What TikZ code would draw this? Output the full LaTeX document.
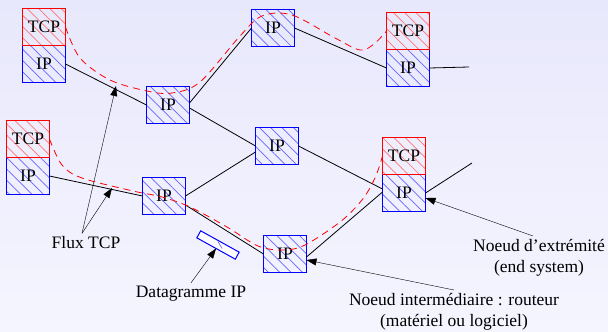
\documentclass[tikz,border=0pt]{standalone}
\usepackage{fontspec}
\setmainfont{Liberation Serif}
\usetikzlibrary{arrows.meta,positioning,patterns.meta}
\definecolor{bgtop}{RGB}{232,232,252}
\definecolor{bgbot}{RGB}{245,245,255}
\tikzset{
  >={Triangle[length=10pt, width=7pt]},
  ipbox/.style ={draw=blue, line width=1pt, minimum width=43pt, minimum height=37pt,
                 inner sep=0pt, outer sep=0pt,
                 pattern={Lines[angle=-45, distance=8pt, line width=0.7pt]}, pattern color=blue!60},
  tcpbox/.style={ipbox, draw=red, pattern color=red!55},
  dgbox/.style ={draw=blue, line width=1pt, fill=white, minimum width=44pt, minimum height=8pt,
                 inner sep=0pt, outer sep=0pt},
  link/.style  ={line width=0.8pt},
  flow/.style  ={red, line width=0.8pt, dash pattern=on 7pt off 5pt},
  lbl/.style   ={align=center}
}
\begin{document}
\begin{tikzpicture}[x=1pt, y=-1pt, font=\fontsize{17.5}{21}\selectfont]
\shade[top color=bgtop, bottom color=bgbot] (0,0) rectangle (608,332);
\useasboundingbox (0,0) rectangle (608,332);

% end systems
\node[ipbox] (ip1) at (44,64) {IP};
\node[tcpbox, above=0pt of ip1] (tcp1) {TCP};
\node[ipbox] (ip2) at (28,176) {IP};
\node[tcpbox, above=0pt of ip2] (tcp2) {TCP};
\node[ipbox] (ip3) at (408,68) {IP};
\node[tcpbox, above=0pt of ip3] (tcp3) {TCP};
\node[ipbox] (ip4) at (404,193) {IP};
\node[tcpbox, above=0pt of ip4] (tcp4) {TCP};

% routers
\node[ipbox] (r1) at (168,105) {IP};
\node[ipbox] (r2) at (273,28) {IP};
\node[ipbox] (r3) at (277,146) {IP};
\node[ipbox] (r4) at (164,196) {IP};
\node[ipbox] (r5) at (285,254) {IP};

% datagram
\node[dgbox, rotate=-29] (dg) at (218,245) {};
\draw[blue!60, line width=0.7pt] ([xshift=-2pt]dg.north) -- ([xshift=6pt]dg.south);

\coordinate (e3) at (469,67);
\coordinate (e4) at (472,163);

% links
\draw[link] (ip1.east) -- (r1.west);
\draw[link] ([yshift=2pt]r1.east) -- (r2.west);
\draw[link] ([yshift=-3pt]r1.east) -- (r3.west);
\draw[link] (r2.east) -- (ip3.west);
\draw[link] (ip3.east) -- (e3);
\draw[link] (ip2.east) -- (r4.west);
\draw[link] (r4.east) -- ([yshift=-6pt]r3.west);
\draw[link] ([yshift=-9pt]r4.east) -- (r5.west);
\draw[link] (r3.east) -- ([yshift=4pt]ip4.west);
\draw[link] ([yshift=-3pt]r5.east) -- ([yshift=1pt]ip4.west);
\draw[link] (ip4.east) -- (e4);

% TCP flows
\draw[flow] plot[smooth, tension=0.55] coordinates {(tcp1.east) (80,58) (110,80) (147,91) (172,93)
  (200,82) (240,36) (262,16) (292,15) (335,38) (360,50) (374,44) (tcp3.west)};
\draw[flow] plot[smooth, tension=0.55] coordinates {(tcp2.east) (62,165) (82,178) (133,191) (162,197)
  (190,207) (227,227) (258,246) (283,250) (305,245) (340,222) (362,200) (375,178) (tcp4.west)};

% labels
\node[lbl] (flux) at (86,243) {Flux TCP};
\coordinate (f1) at (116,86);
\coordinate (f2) at (112,188);
\draw[->] ([xshift=-4pt]flux.north) -- (f1);
\draw[->] ([xshift=-4pt]flux.north) -- (f2);

\node[lbl] (dglbl) at (191,294) {Datagramme IP};
\draw[->] (dglbl.north) -- (dg.south);

\node[lbl] (inter) at (454,312) {Noeud intermédiaire : routeur\\(matériel ou logiciel)};
\draw[->] (inter.north) -- ([yshift=-6pt]r5.east);

\node[lbl] (endsys) at (539,258) {Noeud d’extrémité\\(end system)};
\draw[->] ([xshift=-6pt]endsys.north) -- ([yshift=-5pt]ip4.east);
\end{tikzpicture}
\end{document}
